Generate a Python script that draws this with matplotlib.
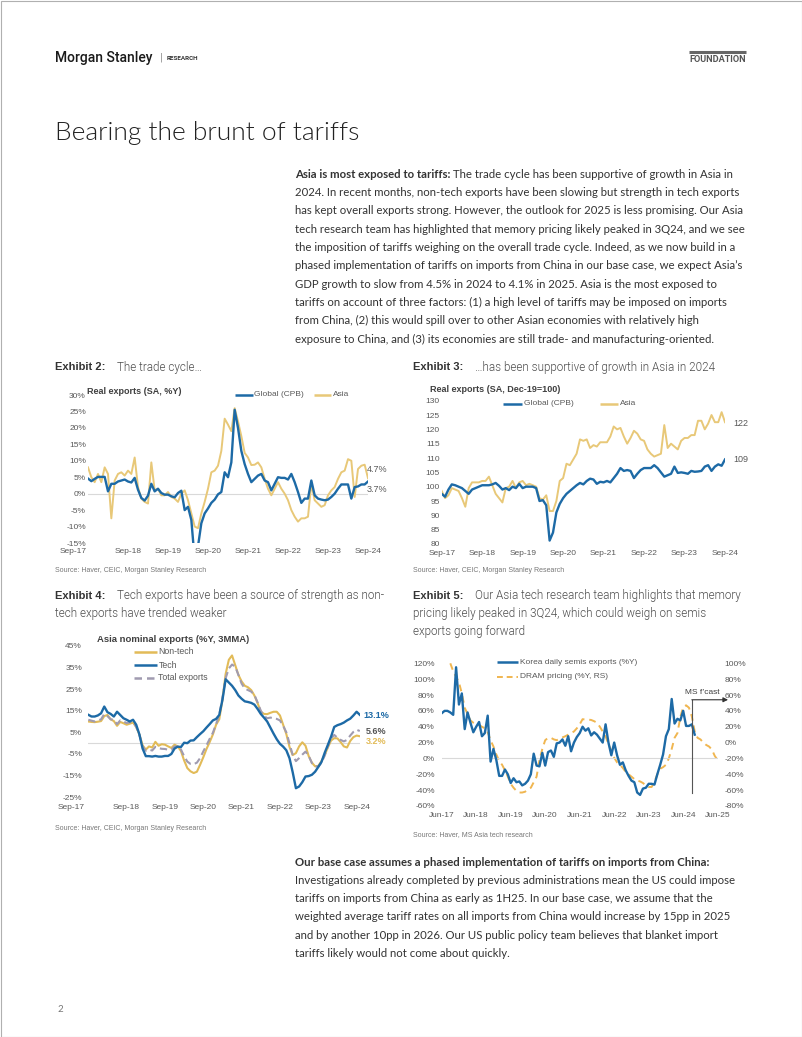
import numpy as np
import matplotlib
matplotlib.use("Agg")
import matplotlib.pyplot as plt
from matplotlib.patches import Rectangle
from matplotlib.transforms import ScaledTranslation

W, H = 802, 1037

# ---------------- data ----------------
sep_labels = ["Sep-17", "Sep-18", "Sep-19", "Sep-20", "Sep-21", "Sep-22", "Sep-23", "Sep-24"]
jun_labels = ["Jun-17", "Jun-18", "Jun-19", "Jun-20", "Jun-21", "Jun-22", "Jun-23", "Jun-24", "Jun-25"]

# Exhibit 2: real exports %Y, monthly Sep-17..Sep-24
global_yoy = [4.6, 3.8, 4.5, 5.1, 5.1, 5.1, 0.7, 3.0, 3.0, 3.7,
              4.0, 4.3, 3.7, 3.4, 4.8, 1.2, -1.3, -2.1, -0.6, 3.0,
              0.7, 1.5, 0.2, -0.3, -0.3, -0.8, -1.1, 0.2, 0.9, -5.0,
              -4.0, -8.0, -20.0, -16.0, -9.0, -6.0, -4.5, -2.8, -1.8, -0.2,
              0.5, 6.5, 5.0, 9.5, 25.5, 20.0, 13.0, 9.0, 6.0, 3.5,
              4.5, 5.5, 6.0, 4.0, 3.5, 1.0, 3.0, 5.0, 4.8, 4.8,
              4.3, 6.0, 3.5, 0.5, -2.8, -1.5, -1.5, 4.0, -0.5, -1.5,
              -1.8, -2.0, -1.8, -1.0, 0.0, 1.5, 2.8, 2.8, 2.8, -1.5,
              2.0, 2.2, 2.8, 2.8, 3.7]
asia_yoy = [8.0, 5.0, 3.5, 6.0, 3.5, 8.0, 6.0, -7.5, 4.0, 6.0,
            6.5, 5.5, 7.0, 6.0, 11.0, 2.0, -1.5, -2.5, -3.0, 9.5,
            1.0, 1.5, -0.5, -0.5, 0.5, -1.0, -1.5, -2.5, 0.0, 1.0,
            -2.0, -6.0, -10.0, -10.5, -6.0, -2.5, 1.5, 6.5, 7.0, 8.5,
            13.0, 22.8, 21.0, 19.0, 26.0, 22.0, 17.5, 12.4, 11.0, 8.7,
            8.8, 9.5, 8.0, 4.5, 1.5, -0.5, 1.5, 3.5, 1.5, 0.0,
            -2.0, -5.0, -7.0, -8.5, -7.5, -7.5, -7.0, 3.0, -2.0, -3.0,
            -4.0, -3.5, -0.5, 1.0, 2.0, 4.5, 6.5, 7.0, 10.5, 10.0,
            -1.0, 7.5, 8.5, 8.8, 4.7]

# Exhibit 3: real exports index (Dec-19=100), monthly Sep-17..Sep-24
global_idx = [97.5, 96.5, 99.0, 100.8, 100.5, 100.0, 99.5, 98.5, 97.5, 99.0,
              99.5, 100.0, 100.5, 100.5, 100.5, 100.8, 101.3, 100.3, 99.0, 99.5,
              98.8, 100.0, 99.5, 101.0, 99.5, 100.0, 100.0, 100.0, 99.5, 95.0,
              95.3, 93.5, 81.2, 84.0, 91.0, 94.0, 96.0, 97.5, 98.5, 99.5,
              100.5, 101.3, 100.8, 102.0, 102.8, 102.5, 101.0, 101.7, 101.5, 102.0,
              101.5, 103.0, 104.5, 106.5, 105.5, 105.8, 105.5, 103.0, 104.5, 105.8,
              106.5, 106.5, 106.5, 107.5, 106.5, 105.0, 103.5, 104.0, 104.5, 107.0,
              104.8, 105.0, 104.8, 104.5, 105.5, 105.2, 105.3, 105.5, 107.0, 107.5,
              105.5, 107.0, 107.8, 107.3, 109.5]
asia_idx = [98.5, 96.0, 97.0, 99.5, 99.0, 98.5, 96.0, 93.0, 99.5, 101.5,
            101.5, 101.5, 102.0, 102.0, 103.5, 100.5, 97.5, 96.0, 94.5, 99.5,
            100.0, 102.0, 99.5, 101.5, 102.0, 100.5, 101.0, 100.5, 100.0, 96.0,
            95.5, 97.0, 91.5, 91.5, 95.0, 102.0, 103.0, 108.0, 107.5, 109.5,
            111.5, 116.5, 116.0, 116.5, 113.5, 114.5, 114.0, 115.5, 115.5, 115.5,
            117.5, 121.0, 120.0, 120.5, 117.5, 115.0, 117.0, 119.5, 118.5, 116.5,
            116.0, 113.0, 111.5, 110.5, 111.0, 111.5, 121.5, 113.5, 115.0, 114.0,
            113.0, 116.0, 117.0, 117.0, 118.0, 118.0, 123.0, 123.0, 120.0, 122.0,
            125.0, 122.5, 122.5, 126.0, 122.5]

# Exhibit 4: Asia nominal exports %Y 3MMA, monthly Sep-17..Oct-24
nontech = [10.0, 9.8, 9.7, 9.9, 10.2, 12.5, 13.0, 11.0, 10.2, 8.0,
           9.8, 9.2, 8.5, 9.0, 9.5, 7.5, 4.0, -1.0, -3.0, -1.5,
           -2.0, 0.6, -1.2, -0.5, -0.7, -1.5, -2.2, -0.7, -1.5, -3.6,
           -8.0, -11.5, -13.0, -13.8, -13.2, -10.0, -6.5, -2.7, 0.5, 4.0,
           8.5, 11.0, 20.0, 32.0, 38.5, 40.5, 36.0, 31.5, 28.5, 26.5,
           25.8, 24.5, 22.0, 18.5, 14.5, 13.5, 13.4, 14.0, 14.5, 14.5,
           12.8, 8.5, 4.2, -1.8, -5.5, -4.6, -1.5, 0.4, -1.2, -6.0,
           -9.0, -10.7, -10.5, -8.3, -5.5, -2.0, 1.2, 2.3, 2.2, 0.5,
           -1.5, -2.0, 1.0, 2.8, 3.5, 3.2]
tech = [13.1, 12.3, 12.3, 12.8, 13.8, 16.9, 14.3, 13.5, 12.3, 14.5,
        13.0, 11.5, 10.8, 10.0, 10.8, 8.5, 4.0, -2.5, -6.0, -6.0,
        -6.2, -5.9, -6.2, -6.2, -5.9, -5.9, -5.0, -2.5, -1.6, -1.8,
        0.2, 0.0, 1.2, 1.3, 2.8, 4.2, 5.5, 7.2, 8.8, 10.5,
        11.2, 13.0, 20.0, 29.5, 28.0, 26.5, 24.5, 22.0, 20.5, 19.3,
        19.0, 18.6, 17.8, 15.8, 13.5, 11.8, 10.0, 7.2, 4.4, 1.8,
        -0.3, -1.6, -3.3, -7.0, -13.5, -20.8, -20.0, -18.0, -15.4, -15.2,
        -14.6, -13.2, -11.0, -8.7, -4.5, -0.8, 3.0, 7.5, 8.3, 8.8,
        9.5, 10.5, 11.3, 12.8, 14.5, 13.1]
total = [10.8, 10.4, 10.0, 10.5, 11.0, 13.5, 12.5, 11.0, 10.8, 8.8,
         10.5, 10.0, 9.3, 9.6, 9.8, 7.5, 3.8, -1.5, -3.5, -3.0,
         -3.4, -1.7, -2.3, -2.6, -2.7, -3.0, -3.0, -1.5, -1.5, -2.9,
         -6.0, -8.5, -9.6, -9.7, -9.0, -6.9, -3.8, -1.0, 2.0, 4.8,
         8.8, 13.0, 21.0, 30.0, 34.5, 36.3, 35.3, 31.5, 27.5, 25.2,
         24.5, 23.8, 22.3, 18.8, 15.0, 12.6, 11.5, 11.8, 11.5, 11.2,
         10.5, 8.0, 5.0, -0.2, -5.5, -8.3, -6.9, -5.3, -3.9, -5.8,
         -9.2, -10.7, -10.8, -9.0, -5.8, -1.5, 2.3, 3.8, 2.5, 1.5,
         0.8, 1.5, 3.5, 5.2, 6.2, 5.6]

# Exhibit 5: Korea semis exports %Y (Jun-17..Oct-24), DRAM pricing %Y RS (Sep-17..Jun-25)
korea_semis = [57, 60, 60, 58, 55, 115, 68, 82, 37, 58,
               45, 33, 40, 46, 28, 32, 54, -4, 12, -2,
               -22, -22, -14, -20, -31, -25, -30, -29, -34, -32,
               -28, -20, 6, -9, -10, 7, -9, 8, 10, 2,
               19, 20, 24, 16, 28, 9, 20, 27, 32, 40,
               35, 38, 29, 33, 30, 25, 20, 43, 20, 4,
               20, 4, -8, -5, -15, -22, -28, -30, -43, -46,
               -38, -37, -32, -32, -33, -20, -8, 5, 28, 37,
               75, 44, 50, 48, 60, 41, 41, 43, 30]
dram = [100, 90, 83, 76, 62, 44, 36, 28, 25, 23,
        22, 20, 18, 13, 3, -5, -15, -23, -28, -35,
        -43, -52, -57, -61, -63, -63, -62, -59, -57, -50,
        -43, -22, -8, 3, 6, 6, 4, 3, 5, 6.5,
        8, 10, 12, 14, 18, 23, 29.5, 29, 29, 28.5,
        27, 25, 20, 14, 8, -2, -10, -19, -25, -28,
        -32, -37, -40, -43, -46, -48, -49, -51, -54, -56,
        -56, -50, -40, -33, -31, -28, -20, -8, 6, 12,
        32, 45, 47, 44, 33, 14, 6, 4, 0, -3,
        -5, -9, -17, -22]
dram_first_month = 3     # Sep-17, counted from Jun-17
fcast_month = 87         # Sep-24

# ---------------- style ----------------
BLUE = "#1d6aa6"
GOLD = "#e8c878"
GOLD2 = "#e2bb58"
GREYD = "#a09bb0"
ORANGE = "#f0b650"
TICK = "#595959"
CHART_FONT = "Liberation Sans"

plt.rcParams["font.family"] = CHART_FONT

fig = plt.figure(figsize=(W / 100, H / 100), dpi=100)
bg = fig.add_axes([0, 0, 1, 1])
bg.set_xlim(0, W)
bg.set_ylim(H, 0)
bg.axis("off")


def axes_px(l, t, r, b):
    return fig.add_axes([l / W, 1 - b / H, (r - l) / W, (b - t) / H])


def style(ax, ypad, xpad=3.8):
    for s in ax.spines.values():
        s.set_visible(False)
    ax.set_facecolor("none")
    ax.tick_params(axis="both", length=0, labelsize=6, labelcolor=TICK)
    ax.tick_params(axis="y", pad=ypad)
    ax.tick_params(axis="x", pad=xpad)
    ax.axhline(0, color="#d9d9d9", lw=0.8, zorder=0)


def shift_first_label(ax, dx):
    lbl = ax.get_xticklabels()[0]
    lbl.set_transform(lbl.get_transform() + ScaledTranslation(dx / 100, 0, fig.dpi_scale_trans))


def legend_line(x0, x1, y, color, text, ls="-", lw=1.8, size=6):
    bg.plot([x0, x1], [y, y], color=color, lw=lw, ls=ls, solid_capstyle="butt")
    bg.text(x1 + 1.5, y, text, fontsize=size, color=TICK, va="center", ha="left")


# ---------------- page header ----------------
bg.add_patch(Rectangle((0.5, 0.5), W - 1, H - 1, fill=False, ec="#b0b0b0", lw=0.8))
bg.text(55, 58, "Morgan Stanley", family="Roboto", weight=500, fontsize=10, color="#1a1a1a", va="center")
bg.text(160, 58, "|", family="Roboto", fontsize=8, color="#888888", va="center")
bg.text(167, 58, "RESEARCH", family="Roboto", fontsize=4.5, weight="bold", color="#333333", va="center")
bg.plot([689, 746], [51.5, 51.5], color="#666666", lw=2.2, solid_capstyle="butt")
bg.text(746, 59, "FOUNDATION", family="Roboto", fontsize=6.6, weight="bold", color="#555555",
        va="center", ha="right")
bg.text(55, 133, "Bearing the brunt of tariffs", family="Lato", weight=300, fontsize=19,
        color="#222222", va="center")

# ---------------- body text ----------------
BODY = dict(family="Lato", fontsize=8.2, color="#333333", va="center")

para1 = [
    "2024. In recent months, non-tech exports have been slowing but strength in tech exports",
    "has kept overall exports strong. However, the outlook for 2025 is less promising. Our Asia",
    "tech research team has highlighted that memory pricing likely peaked in 3Q24, and we see",
    "the imposition of tariffs weighing on the overall trade cycle. Indeed, as we now build in a",
    "phased implementation of tariffs on imports from China in our base case, we expect Asia\u2019s",
    "GDP growth to slow from 4.5% in 2024 to 4.1% in 2025. Asia is the most exposed to",
    "tariffs on account of three factors: (1) a high level of tariffs may be imposed on imports",
    "from China, (2) this would spill over to other Asian economies with relatively high",
    "exposure to China, and (3) its economies are still trade- and manufacturing-oriented.",
]
t_b = bg.text(295, 174, "Asia is most exposed to tariffs:", weight="bold", **BODY)
bg.annotate(" The trade cycle has been supportive of growth in Asia in", xy=(1, 174),
            xycoords=(t_b, "data"), ha="left", **BODY)
for i, line in enumerate(para1):
    bg.text(295, 192.4 + i * 18.35, line, **BODY)

para2 = [
    "Investigations already completed by previous administrations mean the US could impose",
    "tariffs on imports from China as early as 1H25. In our base case, we assume that the",
    "weighted average tariff rates on all imports from China would increase by 15pp in 2025",
    "and by another 10pp in 2026. Our US public policy team believes that blanket import",
    "tariffs likely would not come about quickly.",
]
bg.text(295, 862, "Our base case assumes a phased implementation of tariffs on imports from China:",
        weight="bold", **BODY)
for i, line in enumerate(para2):
    bg.text(295, 880.3 + i * 18.3, line, **BODY)

bg.text(57, 1010, "2", family="Lato", fontsize=7, color="#777777", va="center")

# ---------------- exhibit headings ----------------
EXH = dict(fontsize=8, weight="bold", color="#333333", va="center")
SUB = dict(family="Roboto", weight=300, fontsize=8.4, color="#4d4d4d", va="center")
bg.text(55, 367, "Exhibit 2:", **EXH)
bg.text(117, 367, "The trade cycle\u2026", **SUB)
bg.text(413, 367, "Exhibit 3:", **EXH)
bg.text(475, 367, "\u2026has been supportive of growth in Asia in 2024", **SUB)
bg.text(55, 596, "Exhibit 4:", **EXH)
bg.text(117, 596, "Tech exports have been a source of strength as non-", **SUB)
bg.text(55, 614, "tech exports have trended weaker", **SUB)
bg.text(413, 596, "Exhibit 5:", **EXH)
bg.text(475, 596, "Our Asia tech research team highlights that memory", **SUB)
bg.text(413, 614, "pricing likely peaked in 3Q24, which could weigh on semis", **SUB)
bg.text(413, 632, "exports going forward", **SUB)

SRC = dict(fontsize=5, color="#777777", va="center")
bg.text(55, 570, "Source: Haver, CEIC, Morgan Stanley Research", **SRC)
bg.text(413, 570, "Source: Haver, CEIC, Morgan Stanley Research", **SRC)
bg.text(55, 828, "Source: Haver, CEIC, Morgan Stanley Research", **SRC)
bg.text(413, 835, "Source: Haver, MS Asia tech research", **SRC)

# ---------------- Exhibit 2 ----------------
ax2 = axes_px(88, 395, 368, 543)
style(ax2, ypad=1.5)
x2 = np.arange(len(global_yoy))
ax2.plot(x2, asia_yoy, color=GOLD, lw=1.4)
ax2.plot(x2, global_yoy, color=BLUE, lw=1.7)
ax2.set_xlim(0, 84)
ax2.set_ylim(-15, 30)
ax2.set_yticks(np.arange(-15, 31, 5))
ax2.set_yticklabels([f"{v}%" for v in range(-15, 31, 5)])
ax2.set_xticks(np.arange(0, 85, 12))
ax2.set_xticklabels(sep_labels)
shift_first_label(ax2, -15)
bg.text(87, 391, "Real exports (SA, %Y)", fontsize=6.5, weight="bold", color="#404040", va="center")
legend_line(235, 253, 395, BLUE, "Global (CPB)")
legend_line(314, 331, 395, GOLD, "Asia")
bg.text(367, 470, "4.7%", fontsize=6.5, color=TICK, va="center")
bg.text(367, 489, "3.7%", fontsize=6.5, color=TICK, va="center")

# ---------------- Exhibit 3 ----------------
ax3 = axes_px(441.7, 400.7, 725, 544)
style(ax3, ypad=1.5, xpad=4.5)
x3 = np.arange(len(global_idx))
ax3.plot(x3, asia_idx, color=GOLD, lw=1.4)
ax3.plot(x3, global_idx, color=BLUE, lw=1.7)
ax3.set_xlim(0, 84)
ax3.set_ylim(80, 130)
ax3.set_yticks(np.arange(80, 131, 5))
ax3.set_xticks(np.arange(0, 85, 12))
ax3.set_xticklabels(sep_labels)
bg.text(430, 389, "Real exports (SA, Dec-19=100)", fontsize=6.5, weight="bold", color="#404040", va="center")
legend_line(503, 522, 403.5, BLUE, "Global (CPB)")
legend_line(600, 618, 403.5, GOLD, "Asia")
bg.text(733, 423, "122", fontsize=6.5, color=TICK, va="center")
bg.text(733, 460, "109", fontsize=6.5, color=TICK, va="center")

# ---------------- Exhibit 4 ----------------
ax4 = axes_px(88.3, 645.7, 359.8, 797.3)
style(ax4, ypad=4.5, xpad=4.5)
x4 = np.arange(len(tech))
ax4.plot(x4, nontech, color=GOLD2, lw=1.5)
ax4.plot(x4, total, color=GREYD, lw=1.5, ls=(0, (3.5, 2)))
ax4.plot(x4, tech, color=BLUE, lw=1.7)
ax4.set_xlim(0, 85)
ax4.set_ylim(-25, 45)
ax4.set_yticks(np.arange(-25, 46, 10))
ax4.set_yticklabels([f"{v}%" for v in range(-25, 46, 10)])
ax4.set_xticks(np.arange(0, 85, 12))
ax4.set_xticklabels(sep_labels)
shift_first_label(ax4, -17.5)
bg.text(97, 640, "Asia nominal exports (%Y, 3MMA)", fontsize=6.8, weight="bold", color="#404040", va="center")
legend_line(134, 157, 652, GOLD2, "Non-tech", size=6.3)
legend_line(134, 157, 665, BLUE, "Tech", size=6.3)
legend_line(134, 157, 677.5, GREYD, "Total exports", ls=(0, (3, 2)), size=6.3)
bg.text(363, 715, "13.1%", fontsize=6.5, weight="bold", color=BLUE, va="center")
bg.text(366, 731, "5.6%", fontsize=6.5, weight="bold", color="#555555", va="center")
bg.text(366, 741, "3.2%", fontsize=6.5, weight="bold", color=GOLD2, va="center")

# ---------------- Exhibit 5 ----------------
ax5 = axes_px(441.7, 663.3, 717.7, 806)
style(ax5, ypad=5, xpad=4)
ax5r = ax5.twinx()
for s in ax5r.spines.values():
    s.set_visible(False)
ax5r.tick_params(axis="y", length=0, labelsize=6, labelcolor=TICK, pad=5)
x5 = np.arange(len(korea_semis))
xd = np.arange(dram_first_month, dram_first_month + len(dram))
ax5r.plot(xd, dram, color=ORANGE, lw=1.4, ls=(0, (3.5, 2.5)))
ax5.plot(x5, korea_semis, color=BLUE, lw=1.7)
ax5.set_zorder(ax5r.get_zorder() + 1)
ax5.set_xlim(0, 96)
ax5.set_ylim(-60, 120)
ax5r.set_ylim(-80, 100)
ax5.set_yticks(np.arange(-60, 121, 20))
ax5.set_yticklabels([f"{v}%" for v in range(-60, 121, 20)])
ax5r.set_yticks(np.arange(-80, 101, 20))
ax5r.set_yticklabels([f"{v}%" for v in range(-80, 101, 20)])
ax5.set_xticks(np.arange(0, 97, 12))
ax5.set_xticklabels(jun_labels)
ax5.plot([fcast_month, fcast_month], [-44, 74], color="#555555", lw=0.8)
ax5.annotate("", xy=(99.6, 74), xytext=(fcast_month, 74), annotation_clip=False,
             arrowprops=dict(arrowstyle="-|>", color="#333333", lw=0.8, mutation_scale=7,
                             shrinkA=0, shrinkB=0))
bg.text(720, 692, "MS f\u2019cast", fontsize=6, color="#404040", va="center", ha="right")
legend_line(496.7, 518.3, 662, BLUE, "Korea daily semis exports (%Y)")
legend_line(496.7, 518.3, 677, ORANGE, "DRAM pricing (%Y, RS)", ls=(0, (3, 2)), lw=1.4)

fig.savefig("out.png", dpi=100)
